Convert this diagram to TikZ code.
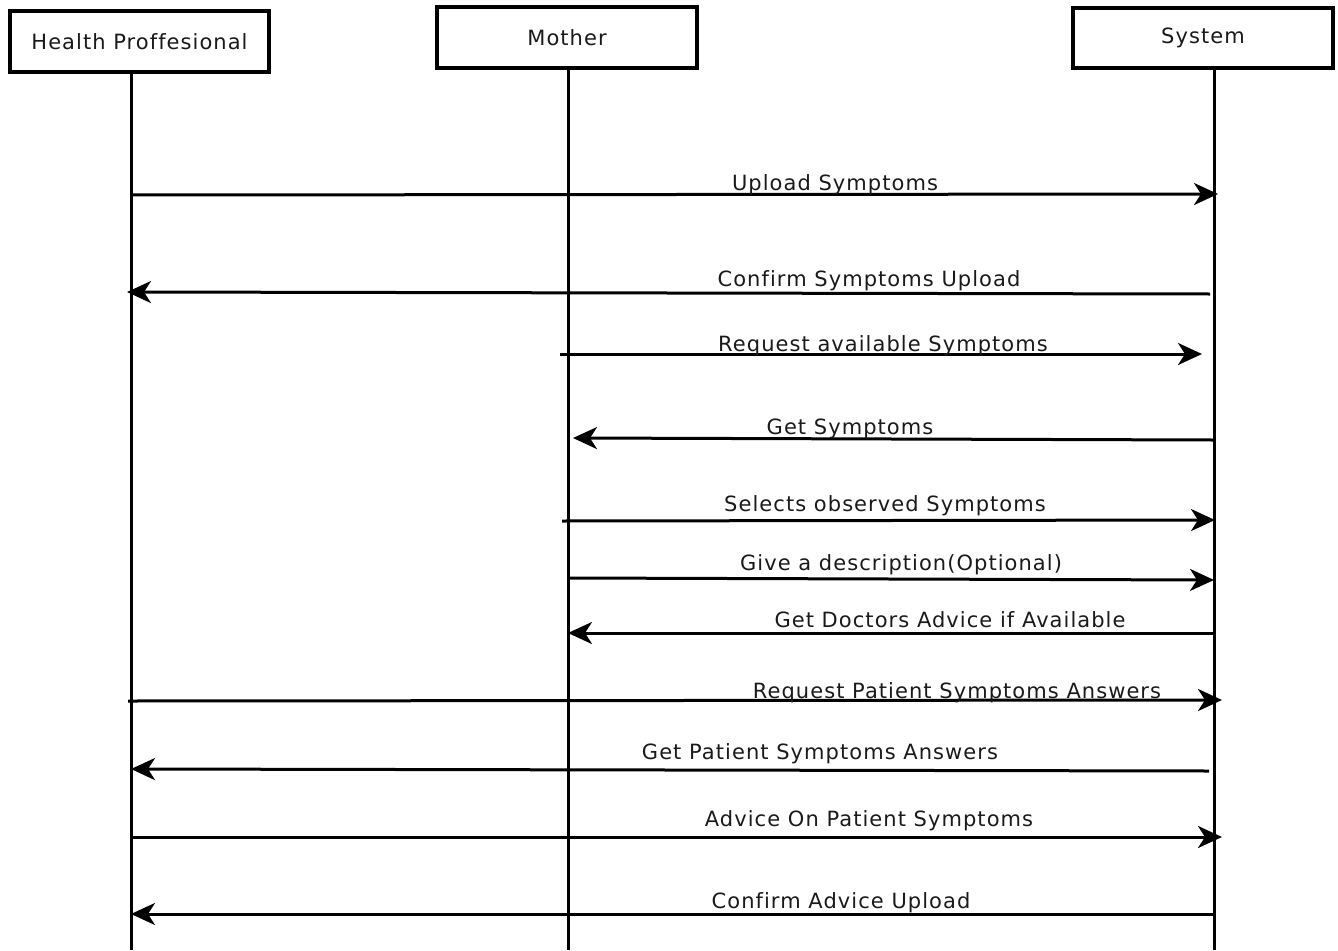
\documentclass[tikz,border=0pt]{standalone}
\usepackage{fontspec}
\setmainfont{DejaVu Sans}[LetterSpace=5, Ligatures=NoCommon]
\usetikzlibrary{arrows.meta}
\definecolor{ink}{HTML}{1A1A1A}
\begin{document}
\begin{tikzpicture}[x=1pt,y=-1pt,
  actorbox/.style={draw=black, line width=3.2pt, fill=white, text=ink,
    minimum height=61pt, inner sep=0pt,
    font=\fontsize{21}{25}\selectfont},
  lifeline/.style={draw=black, line width=3pt},
  msg/.style={draw=black, line width=3pt,
    -{Stealth[length=24pt,width=22pt,inset=7pt]}},
  msglabel/.style={anchor=base, text=ink, inner sep=0pt,
    font=\fontsize{21}{25}\selectfont}]

\useasboundingbox (0,0) rectangle (1338,950);

% actors
\node[actorbox, minimum width=259pt] (hp) at (139.5,41.5) {Health Proffesional};
\node[actorbox, minimum width=260pt, minimum height=61pt] (mo) at (567,37.5) {Mother};
\node[actorbox, minimum width=260pt, minimum height=60pt] (sy) at (1203,38) {System};

% lifeline ends
\coordinate (hpEnd) at (131,950);
\coordinate (moEnd) at (568,950);
\coordinate (syEnd) at (1214,950);
\draw[lifeline] (hp.south -| hpEnd) -- (hpEnd);
\draw[lifeline] (mo.south -| moEnd) -- (moEnd);
\draw[lifeline] (sy.south -| syEnd) -- (syEnd);

% message end points
\coordinate (a1) at (131,195);  \coordinate (b1) at (1218,194);
\coordinate (a2) at (1210,294); \coordinate (b2) at (127,292);
\coordinate (a3) at (560,354);  \coordinate (b3) at (1202,354);
\coordinate (a4) at (1213,440); \coordinate (b4) at (573,438);
\coordinate (a5) at (562,521);  \coordinate (b5) at (1215,520);
\coordinate (a6) at (568,578);  \coordinate (b6) at (1214,580);
\coordinate (a7) at (1214,633); \coordinate (b7) at (568,633);
\coordinate (a8) at (128,701);  \coordinate (b8) at (1222,700);
\coordinate (a9) at (1209,771); \coordinate (b9) at (131,769);
\coordinate (a10) at (131,837); \coordinate (b10) at (1222,837);
\coordinate (a11) at (1214,914); \coordinate (b11) at (131,914);

% messages
\draw[msg] (a1) -- (b1);
\draw[msg] (a2) -- (b2);
\draw[msg] (a3) -- (b3);
\draw[msg] (a4) -- (b4);
\draw[msg] (a5) -- (b5);
\draw[msg] (a6) -- (b6);
\draw[msg] (a7) -- (b7);
\draw[msg] (a8) -- (b8);
\draw[msg] (a9) -- (b9);
\draw[msg] (a10) -- (b10);
\draw[msg] (a11) -- (b11);

% message labels
\node[msglabel] (l1) at (835,190) {Upload Symptoms};
\node[msglabel] (l2) at (869,286) {Confirm Symptoms Upload};
\node[msglabel] (l3) at (883,351) {Request available Symptoms};
\node[msglabel] (l4) at (850,434) {Get Symptoms};
\node[msglabel] (l5) at (885,511) {Selects observed Symptoms};
\node[msglabel] (l6) at (901,570) {Give a description(Optional)};
\node[msglabel] (l7) at (950,627) {Get Doctors Advice if Available};
\node[msglabel] (l8) at (957,698) {Request Patient Symptoms Answers};
\node[msglabel] (l9) at (820,759) {Get Patient Symptoms Answers};
\node[msglabel] (l10) at (869,826) {Advice On Patient Symptoms};
\node[msglabel] (l11) at (841,908) {Confirm Advice Upload};
\end{tikzpicture}
\end{document}
